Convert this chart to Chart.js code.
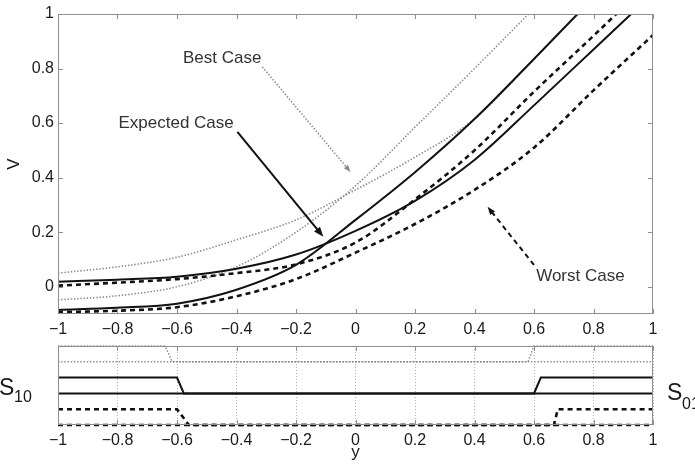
<!DOCTYPE html>
<html>
<head>
<meta charset="utf-8">
<title>V and switching curves</title>
<script src="https://cdn.jsdelivr.net/npm/chart.js@4.4.1/dist/chart.umd.min.js"></script>
<style>
  body { margin: 0; background: #fff; }
  #wrap { position: relative; width: 695px; height: 469px; }
  #value-chart { position: absolute; left: 0; top: 0; }
  #switch-chart { position: absolute; left: 0; top: 340px; }
</style>
</head>
<body>
<div id="wrap">
  <canvas id="value-chart" width="695" height="340"></canvas>
  <canvas id="switch-chart" width="695" height="129"></canvas>
</div>
<script>
// sample points along y
const yGrid = [-1, -0.8, -0.6, -0.4, -0.2, 0, 0.2, 0.4, 0.6, 0.8, 1];

// V for each case (two policies per case)
const bestA = [0.05, 0.073, 0.108, 0.172, 0.245, 0.355, 0.475, 0.615, 0.835, 1.06, 1.28];
const bestB = [-0.048, -0.033, 0.0, 0.073, 0.2, 0.37, 0.585, 0.8, 1.02, 1.24, 1.46];
const expectedA = [0.018, 0.026, 0.037, 0.066, 0.118, 0.205, 0.315, 0.465, 0.665, 0.87, 1.075];
const expectedB = [-0.085, -0.077, -0.062, -0.011, 0.08, 0.245, 0.42, 0.615, 0.835, 1.06, 1.28];
const worstA = [0.004, 0.015, 0.028, 0.05, 0.082, 0.162, 0.32, 0.5, 0.715, 0.92, 1.13];
const worstB = [-0.093, -0.088, -0.075, -0.035, 0.028, 0.125, 0.23, 0.355, 0.51, 0.72, 0.923];

// switching signals S10 / S01 (breakpoints in y, state 0/1)
const bestS10X = [-1, -0.64, -0.616, 1];
const bestS10 = [1, 1, 0, 0];
const bestS01X = [-1, 0.58, 0.6, 1];
const bestS01 = [0, 0, 1, 1];
const expectedS10X = [-1, -0.6, -0.577, 1];
const expectedS10 = [1, 1, 0, 0];
const expectedS01X = [-1, 0.6, 0.623, 1];
const expectedS01 = [0, 0, 1, 1];
const worstS10X = [-1, -0.6, -0.56, 1];
const worstS10 = [1, 1, 0, 0];
const worstS01X = [-1, 0.667, 0.68, 1];
const worstS01 = [0, 0, 1, 1];

const xTicks = [-1, -0.8, -0.6, -0.4, -0.2, 0, 0.2, 0.4, 0.6, 0.8, 1];
const vTicks = [0, 0.2, 0.4, 0.6, 0.8, 1];

const FONT = "'Liberation Sans', Arial, sans-serif";
const INK = '#1a1a1a';
const AXIS = '#8e8e8e';

const styles = {
  expected: { borderColor: '#111', borderWidth: 2, borderDash: [] },
  worst: { borderColor: '#111', borderWidth: 2.6, borderDash: [5, 4] },
  best: { borderColor: '#8a8a8a', borderWidth: 1.6, borderDash: [1.4, 1.8] }
};

Chart.defaults.font.family = FONT;
Chart.defaults.color = INK;

const fmt = v => {
  const n = Math.round(v * 10) / 10;
  return n < 0 ? '\u2212' + Math.abs(n) : String(n);
};

const pts = (xs, ys, shift = 0) => xs.map((x, i) => ({ x: x, y: ys[i] + shift }));

function curve(data, style, smooth) {
  return Object.assign({
    data: data,
    pointRadius: 0,
    fill: false,
    clip: smooth ? 0 : 2,
    tension: 0,
    cubicInterpolationMode: smooth ? 'monotone' : 'default'
  }, style);
}

// box around the plot area with inward tick marks
const frame = {
  id: 'frame',
  afterDraw(chart, args, opts) {
    const { ctx, chartArea: a, scales } = chart;
    ctx.save();
    ctx.strokeStyle = AXIS;
    ctx.lineWidth = 1;
    ctx.setLineDash([]);
    ctx.strokeRect(a.left + 0.5, a.top + 0.5, a.width - 1, a.height - 1);
    const len = 5;
    ctx.beginPath();
    scales.x.ticks.forEach(t => {
      const px = Math.round(scales.x.getPixelForValue(t.value)) + 0.5;
      ctx.moveTo(px, a.bottom); ctx.lineTo(px, a.bottom - len);
      ctx.moveTo(px, a.top); ctx.lineTo(px, a.top + len);
    });
    if (opts.yTicks) {
      scales.y.ticks.forEach(t => {
        const py = Math.round(scales.y.getPixelForValue(t.value)) + 0.5;
        ctx.moveTo(a.left, py); ctx.lineTo(a.left + len, py);
        ctx.moveTo(a.right, py); ctx.lineTo(a.right - len, py);
      });
    }
    ctx.stroke();
    ctx.restore();
  }
};

// text callouts with arrows, placed in data units
const callouts = [
  { text: 'Best Case', at: [-0.448, 0.839], from: [-0.313, 0.806], to: [-0.017, 0.421], kind: 'best', head: 7 },
  { text: 'Expected Case', at: [-0.603, 0.6], from: [-0.397, 0.568], to: [-0.108, 0.183], kind: 'expected', head: 10 },
  { text: 'Worst Case', at: [0.756, 0.037], from: [0.6, 0.08], to: [0.444, 0.293], kind: 'worst', head: 8 }
];

function arrow(ctx, x0, y0, x1, y1, head) {
  const ang = Math.atan2(y1 - y0, x1 - x0);
  const c = Math.cos(ang), s = Math.sin(ang);
  ctx.beginPath();
  ctx.moveTo(x0, y0);
  ctx.lineTo(x1 - head * 0.8 * c, y1 - head * 0.8 * s);
  ctx.stroke();
  ctx.setLineDash([]);
  ctx.beginPath();
  ctx.moveTo(x1, y1);
  ctx.lineTo(x1 - head * c + head * 0.38 * s, y1 - head * s - head * 0.38 * c);
  ctx.lineTo(x1 - head * c - head * 0.38 * s, y1 - head * s + head * 0.38 * c);
  ctx.closePath();
  ctx.fill();
}

const notes = {
  id: 'notes',
  afterDatasetsDraw(chart) {
    const { ctx, scales: { x, y } } = chart;
    ctx.save();
    callouts.forEach(n => {
      const st = styles[n.kind];
      ctx.strokeStyle = st.borderColor;
      ctx.fillStyle = st.borderColor;
      ctx.lineWidth = n.kind === 'best' ? 1.6 : 2;
      ctx.setLineDash(n.kind === 'worst' ? [5, 4] : st.borderDash);
      arrow(ctx, x.getPixelForValue(n.from[0]), y.getPixelForValue(n.from[1]),
        x.getPixelForValue(n.to[0]), y.getPixelForValue(n.to[1]), n.head);
      ctx.font = '17px ' + FONT;
      ctx.fillStyle = '#333';
      ctx.textAlign = 'center';
      ctx.textBaseline = 'middle';
      ctx.fillText(n.text, x.getPixelForValue(n.at[0]), y.getPixelForValue(n.at[1]));
    });
    ctx.restore();
  }
};

// S10 / S01 labels beside the switching plot
const switchLabels = {
  id: 'switchLabels',
  afterDraw(chart) {
    const { ctx, chartArea: a } = chart;
    ctx.save();
    ctx.fillStyle = INK;
    ctx.textBaseline = 'alphabetic';
    ctx.textAlign = 'left';
    ctx.font = '23px ' + FONT;
    ctx.fillText('S', -1, a.top + 49);
    ctx.fillText('S', a.right + 14, a.top + 54);
    ctx.font = '16px ' + FONT;
    ctx.fillText('10', 14, a.top + 56);
    ctx.fillText('01', a.right + 29, a.top + 63);
    ctx.restore();
  }
};

const tickFont = { size: 16, family: FONT };
const fixedTicks = list => scale => { scale.ticks = list.map(v => ({ value: v })); };

new Chart(document.getElementById('value-chart'), {
  type: 'line',
  data: {
    datasets: [
      curve(pts(yGrid, expectedA), styles.expected, true),
      curve(pts(yGrid, expectedB), styles.expected, true),
      curve(pts(yGrid, worstA), styles.worst, true),
      curve(pts(yGrid, worstB), styles.worst, true),
      curve(pts(yGrid, bestA), styles.best, true),
      curve(pts(yGrid, bestB), styles.best, true)
    ]
  },
  options: {
    responsive: false,
    animation: false,
    layout: { padding: { top: 14, right: 42, left: 0, bottom: 0 } },
    plugins: { legend: { display: false }, tooltip: { enabled: false }, frame: { yTicks: true } },
    scales: {
      x: {
        type: 'linear', min: -1, max: 1,
        afterBuildTicks: fixedTicks(xTicks),
        afterFit: s => { s.height = 26; },
        grid: { display: false, drawTicks: false },
        border: { display: false },
        ticks: { callback: fmt, font: tickFont, color: INK, padding: 6, maxRotation: 0, autoSkip: false }
      },
      y: {
        min: -0.1, max: 1,
        afterBuildTicks: fixedTicks(vTicks),
        afterFit: s => { s.width = 58; },
        grid: { display: false, drawTicks: false },
        border: { display: false },
        ticks: { callback: fmt, font: tickFont, color: INK, padding: 4 },
        title: { display: true, text: 'V', font: { size: 17, family: FONT }, color: INK, padding: { top: 4, bottom: 0 } }
      }
    }
  },
  plugins: [notes, frame]
});

new Chart(document.getElementById('switch-chart'), {
  type: 'line',
  data: {
    datasets: [
      curve(pts(expectedS10X, expectedS10, 2), styles.expected, false),
      curve(pts(expectedS01X, expectedS01, 2), styles.expected, false),
      curve(pts(worstS10X, worstS10, 0), styles.worst, false),
      curve(pts(worstS01X, worstS01, 0), styles.worst, false),
      curve(pts(bestS10X, bestS10, 4), styles.best, false),
      curve(pts(bestS01X, bestS01, 4), styles.best, false)
    ]
  },
  options: {
    responsive: false,
    animation: false,
    layout: { padding: { top: 6, right: 42, left: 58, bottom: 0 } },
    plugins: { legend: { display: false }, tooltip: { enabled: false }, frame: { yTicks: false } },
    scales: {
      x: {
        type: 'linear', min: -1, max: 1,
        afterBuildTicks: fixedTicks(xTicks),
        afterFit: s => { s.height = 44; },
        grid: { display: true, drawTicks: false, color: '#b0b0b0', lineWidth: 1 },
        border: { display: false, dash: [1, 2] },
        ticks: { callback: fmt, font: tickFont, color: INK, padding: 6, maxRotation: 0, autoSkip: false },
        title: { display: true, text: 'y', font: { size: 17, family: FONT }, color: INK, padding: { top: 0, bottom: 6 } }
      },
      y: { display: false, min: 0, max: 5 }
    }
  },
  plugins: [frame, switchLabels]
});
</script>
</body>
</html>
